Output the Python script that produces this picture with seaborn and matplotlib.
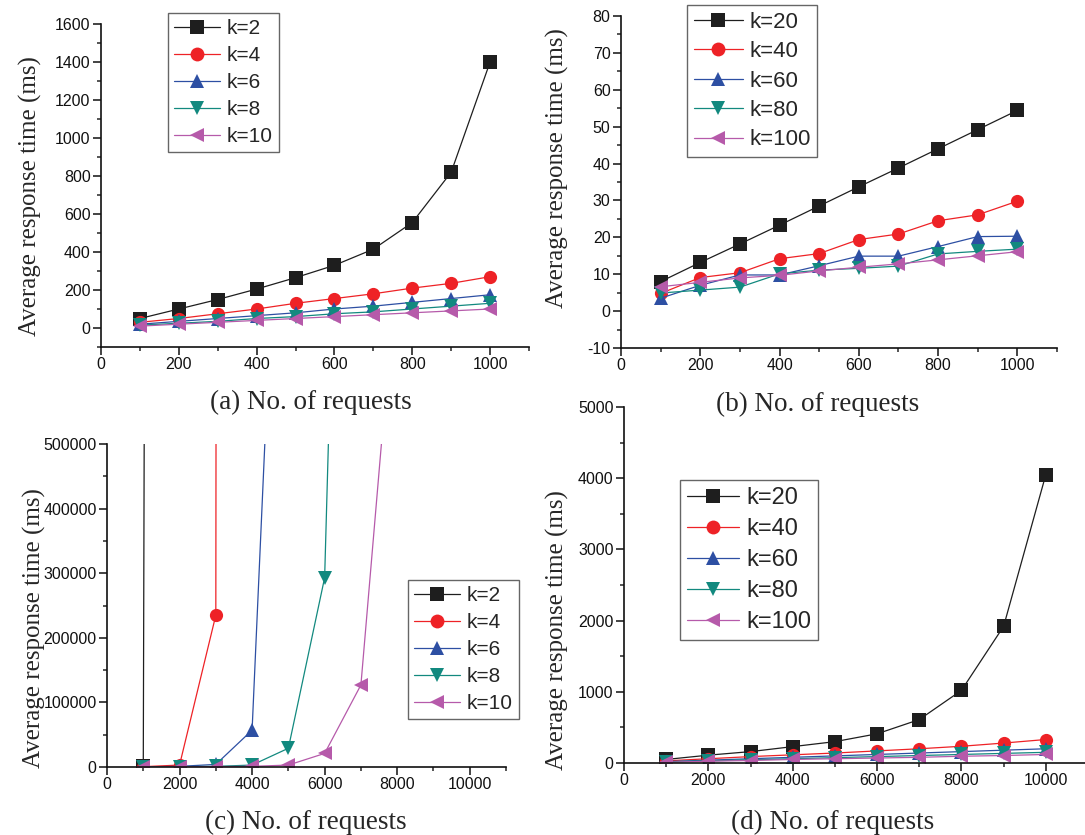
import matplotlib
matplotlib.use('Agg')
import matplotlib.pyplot as plt
from matplotlib.ticker import MultipleLocator
import numpy as np
import pandas as pd
import seaborn as sns

sns.set_style('ticks')
plt.rcParams['font.family'] = ['Liberation Sans', 'DejaVu Sans']
plt.rcParams['axes.unicode_minus'] = False

W, H = 1085, 835

# (a) 요청 100~1000, k = 2..10
req_a = [100, 200, 300, 400, 500, 600, 700, 800, 900, 1000]
k_a = ['k=2', 'k=4', 'k=6', 'k=8', 'k=10']
a_k2 = [50, 100, 150, 205, 265, 330, 415, 555, 820, 1400]
a_k4 = [30, 50, 75, 100, 130, 155, 180, 210, 235, 270]
a_k6 = [20, 35, 50, 65, 80, 100, 115, 135, 155, 175]
a_k8 = [15, 25, 35, 50, 60, 75, 85, 100, 115, 130]
a_k10 = [10, 20, 30, 40, 50, 60, 70, 80, 90, 100]

# (b) 요청 100~1000, k = 20..100
req_b = req_a
k_b = ['k=20', 'k=40', 'k=60', 'k=80', 'k=100']
b_k20 = [8.0, 13.2, 18.2, 23.3, 28.5, 33.7, 38.8, 44.0, 49.2, 54.4]
b_k40 = [4.8, 9.1, 10.4, 14.2, 15.6, 19.4, 20.9, 24.5, 26.1, 29.8]
b_k60 = [3.5, 7.0, 9.8, 9.8, 12.3, 14.9, 14.9, 17.5, 20.2, 20.3]
b_k80 = [4.9, 5.7, 6.5, 10.1, 11.1, 11.6, 12.2, 15.5, 16.2, 16.8]
b_k100 = [6.6, 7.8, 9.0, 9.7, 10.9, 11.9, 12.8, 13.9, 15.0, 16.1]

# (c) 요청 1000~, k = 2..10 (마지막 점은 그래프 위로 벗어남)
k_c = k_a
c_req_k2 = [1000, 2000]
c_k2 = [1000, 2.0e7]
c_req_k4 = [1000, 2000, 3000, 4000]
c_k4 = [500, 3000, 235000, 5.0e7]
c_req_k6 = [1000, 2000, 3000, 4000, 5000]
c_k6 = [300, 1000, 4000, 57000, 1.32e6]
c_req_k8 = [1000, 2000, 3000, 4000, 5000, 6000, 7000]
c_k8 = [200, 500, 1000, 3000, 29000, 293000, 2.3e6]
c_req_k10 = [1000, 2000, 3000, 4000, 5000, 6000, 7000, 8000]
c_k10 = [100, 300, 600, 1000, 3000, 21000, 127000, 787000]

# (d) 요청 1000~10000, k = 20..100
req_d = [1000, 2000, 3000, 4000, 5000, 6000, 7000, 8000, 9000, 10000]
k_d = k_b
d_k20 = [50, 110, 160, 230, 300, 410, 610, 1020, 1920, 4050]
d_k40 = [30, 60, 90, 115, 140, 170, 200, 235, 280, 330]
d_k60 = [20, 40, 60, 80, 100, 120, 140, 160, 180, 200]
d_k80 = [15, 30, 45, 60, 75, 90, 105, 120, 135, 150]
d_k100 = [10, 25, 35, 50, 60, 70, 80, 95, 105, 120]

colors = ['#1e1e1e', '#ee2226', '#2d4fa3', '#12897f', '#b65aaa']
marks = ['s', 'o', '^', 'v', '<']


def long_df(xs, ys, names):
    rows = []
    for x, y, n in zip(xs, ys, names):
        rows.append(pd.DataFrame({'req': x, 'time': y, 'k': n}))
    return pd.concat(rows, ignore_index=True)


df_a = long_df([req_a] * 5, [a_k2, a_k4, a_k6, a_k8, a_k10], k_a)
df_b = long_df([req_b] * 5, [b_k20, b_k40, b_k60, b_k80, b_k100], k_b)
df_c = long_df([c_req_k2, c_req_k4, c_req_k6, c_req_k8, c_req_k10],
               [c_k2, c_k4, c_k6, c_k8, c_k10], k_c)
df_d = long_df([req_d] * 5, [d_k20, d_k40, d_k60, d_k80, d_k100], k_d)


def px_box(l, t, r, b):
    return [l / W, 1 - b / H, (r - l) / W, (b - t) / H]


fig = plt.figure(figsize=(W / 100, H / 100), dpi=100)

panels = [
    # df, names, box, xlim, ylim, xmaj, ymaj, label, legend corner, legend size, ylabel pos, xlabel pos
    (df_a, k_a, (101, 24, 529, 347), (0, 1100), (-100, 1600), 200, 200,
     '(a) No. of requests', (168, 13), 15, (30, 196), (311, 402)),
    (df_b, k_b, (621, 16, 1057, 348), (0, 1100), (-10, 80), 200, 10,
     '(b) No. of requests', (687, 5), 16, (557, 168), (818, 404)),
    (df_c, k_c, (107, 444, 506, 767), (0, 11000), (0, 500000), 2000, 100000,
     '(c) No. of requests', (408, 580), 15, (34, 628), (306, 822)),
    (df_d, k_d, (624, 407, 1088, 763), (0, 11000), (0, 5000), 2000, 1000,
     '(d) No. of requests', (680, 480), 17, (557, 630), (833, 822)),
]

for df, names, box, xlim, ylim, xmaj, ymaj, xlab, lcorner, lsize, ylpos, xlpos in panels:
    ax = fig.add_axes(px_box(*box))
    ax.patch.set_alpha(0)
    sns.lineplot(data=df, x='req', y='time', hue='k', style='k', hue_order=names,
                 style_order=names, palette=colors, markers=marks, dashes=False,
                 markersize=9.5, markeredgewidth=0, linewidth=0.9, sort=True,
                 estimator=None, ax=ax)
    ax.set_xlim(*xlim)
    ax.set_ylim(*ylim)
    ax.xaxis.set_major_locator(MultipleLocator(xmaj))
    ax.xaxis.set_minor_locator(MultipleLocator(xmaj / 2))
    ax.yaxis.set_major_locator(MultipleLocator(ymaj))
    ax.yaxis.set_minor_locator(MultipleLocator(ymaj / 2))
    ax.ticklabel_format(style='plain', useOffset=False)
    ax.tick_params(which='major', direction='out', length=5.5, width=1.1,
                   labelsize=11.5, colors='#111111', pad=2)
    ax.tick_params(which='minor', direction='out', length=3, width=1.1)
    sns.despine(ax=ax)
    for s in ['left', 'bottom']:
        ax.spines[s].set_linewidth(1.2)
        ax.spines[s].set_color('#111111')

    ax.set_ylabel('Average response time (ms)', family='Liberation Serif', fontsize=18)
    ax.set_xlabel(xlab, family='Liberation Serif', fontsize=19.5)
    # 축 라벨 위치를 픽셀로 맞춤
    l, t, r, b = box
    ax.yaxis.set_label_coords((ylpos[0] - l) / (r - l), (b - ylpos[1]) / (b - t))
    ax.xaxis.set_label_coords((xlpos[0] - l) / (r - l), (b - xlpos[1]) / (b - t))
    ax.xaxis.label.set_va('center')
    ax.yaxis.label.set_va('center')

    handles, labels = ax.get_legend_handles_labels()
    ax.legend(handles, labels, loc='upper left',
              bbox_to_anchor=(lcorner[0] / W, 1 - lcorner[1] / H),
              bbox_transform=fig.transFigure, borderaxespad=0,
              fontsize=lsize, frameon=True, fancybox=False, edgecolor='#666666',
              framealpha=1, handlelength=2.2, handletextpad=0.3,
              labelspacing=0.38, borderpad=0.3, markerscale=1.05)

fig.savefig('out.png', dpi=100)
